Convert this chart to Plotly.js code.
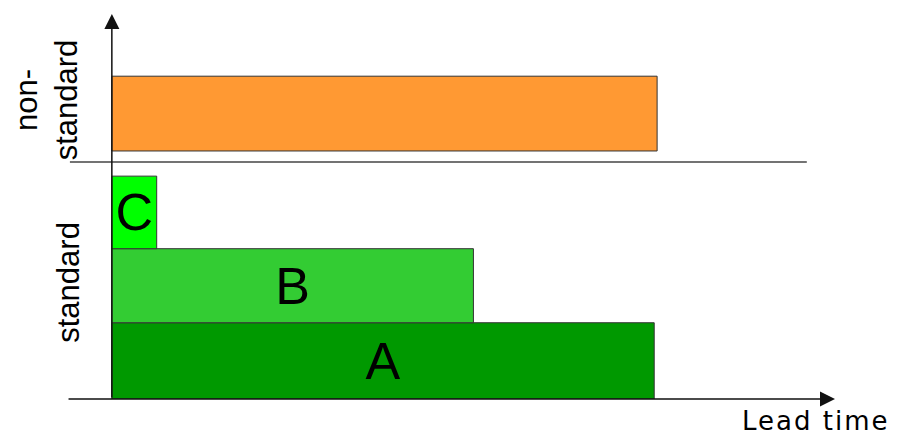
<!DOCTYPE html>
<html>
<head>
<meta charset="utf-8">
<script src="https://cdn.plot.ly/plotly-3.0.1.min.js"></script>
<style>
  html, body { margin: 0; padding: 0; background: #fff; }
  #chart { width: 902px; height: 435px; }
  /* the reference's "Lead time" label is set wide */
  .annotation[data-index="4"] text { letter-spacing: 2px; }
</style>
</head>
<body>
<div id="chart"></div>
<script>
// rows from bottom to top
const rows = ['A', 'B', 'C', 'non-standard'];
const leadTimes = [75, 50, 6.2, 75.4];
const rowBottom = [0, 1.03, 2.03, 3.35];
const rowTop = [1.03, 2.03, 3.01, 4.36];
const barLabels = ['A', 'B', 'C', ''];
const barColors = ['#009900', '#33CC33', '#00FF00', '#FF9933'];

const groupSplit = 3.2;   // line between standard and non-standard
const axisEnd = 100;
const yTop = 5.2;

const font = 'Liberation Sans, Arial, sans-serif';

const trace = {
  type: 'bar',
  orientation: 'h',
  x: leadTimes,
  y: rows.map((r, i) => (rowBottom[i] + rowTop[i]) / 2),
  width: rows.map((r, i) => rowTop[i] - rowBottom[i]),
  base: 0,
  text: barLabels,
  textposition: 'inside',
  insidetextanchor: 'middle',
  constraintext: 'none',
  textfont: { family: font, size: 52, color: '#000' },
  marker: { color: barColors, line: { color: '#333', width: 1 } },
  hoverinfo: 'skip'
};

const layout = {
  width: 902,
  height: 435,
  margin: { l: 54, r: 67, t: 14, b: 36 },
  paper_bgcolor: '#fff',
  plot_bgcolor: '#fff',
  showlegend: false,
  xaxis: { range: [-8, axisEnd], visible: false, fixedrange: true },
  yaxis: { range: [0, yTop], visible: false, fixedrange: true },
  shapes: [{
    type: 'line', xref: 'x', yref: 'y',
    x0: -5.8, x1: 96.1, y0: groupSplit, y1: groupSplit,
    line: { color: '#444', width: 1.5 }
  }],
  annotations: [
    // lead time axis with arrow
    {
      x: axisEnd, y: 0, xref: 'x', yref: 'y',
      ax: -6.2, ay: 0, axref: 'x', ayref: 'y',
      text: '', showarrow: true, arrowhead: 2, arrowsize: 2,
      arrowwidth: 1.5, arrowcolor: '#111', standoff: 0
    },
    // vertical axis with arrow
    {
      x: 0, y: yTop, xref: 'x', yref: 'y',
      ax: 0, ay: 0, axref: 'x', ayref: 'y',
      text: '', showarrow: true, arrowhead: 2, arrowsize: 2,
      arrowwidth: 1.5, arrowcolor: '#111', standoff: 0
    },
    {
      x: -0.0096, y: 0.777, xref: 'paper', yref: 'paper',
      xanchor: 'center', yanchor: 'middle',
      text: 'non-<br>standard', showarrow: false, textangle: -90,
      font: { family: font, size: 31, color: '#000' }
    },
    {
      x: -6.1, y: 1.58, xref: 'x', yref: 'y',
      xanchor: 'center', yanchor: 'middle',
      text: 'standard', showarrow: false, textangle: -90,
      font: { family: font, size: 31, color: '#000' }
    },
    {
      x: 0.9744, y: -0.057, xref: 'paper', yref: 'paper',
      xanchor: 'center', yanchor: 'middle',
      text: 'Lead time', showarrow: false,
      font: { family: 'DejaVu Sans, sans-serif', size: 26, color: '#000' }
    }
  ]
};

Plotly.newPlot('chart', [trace], layout, { staticPlot: true, displayModeBar: false });
</script>
</body>
</html>
